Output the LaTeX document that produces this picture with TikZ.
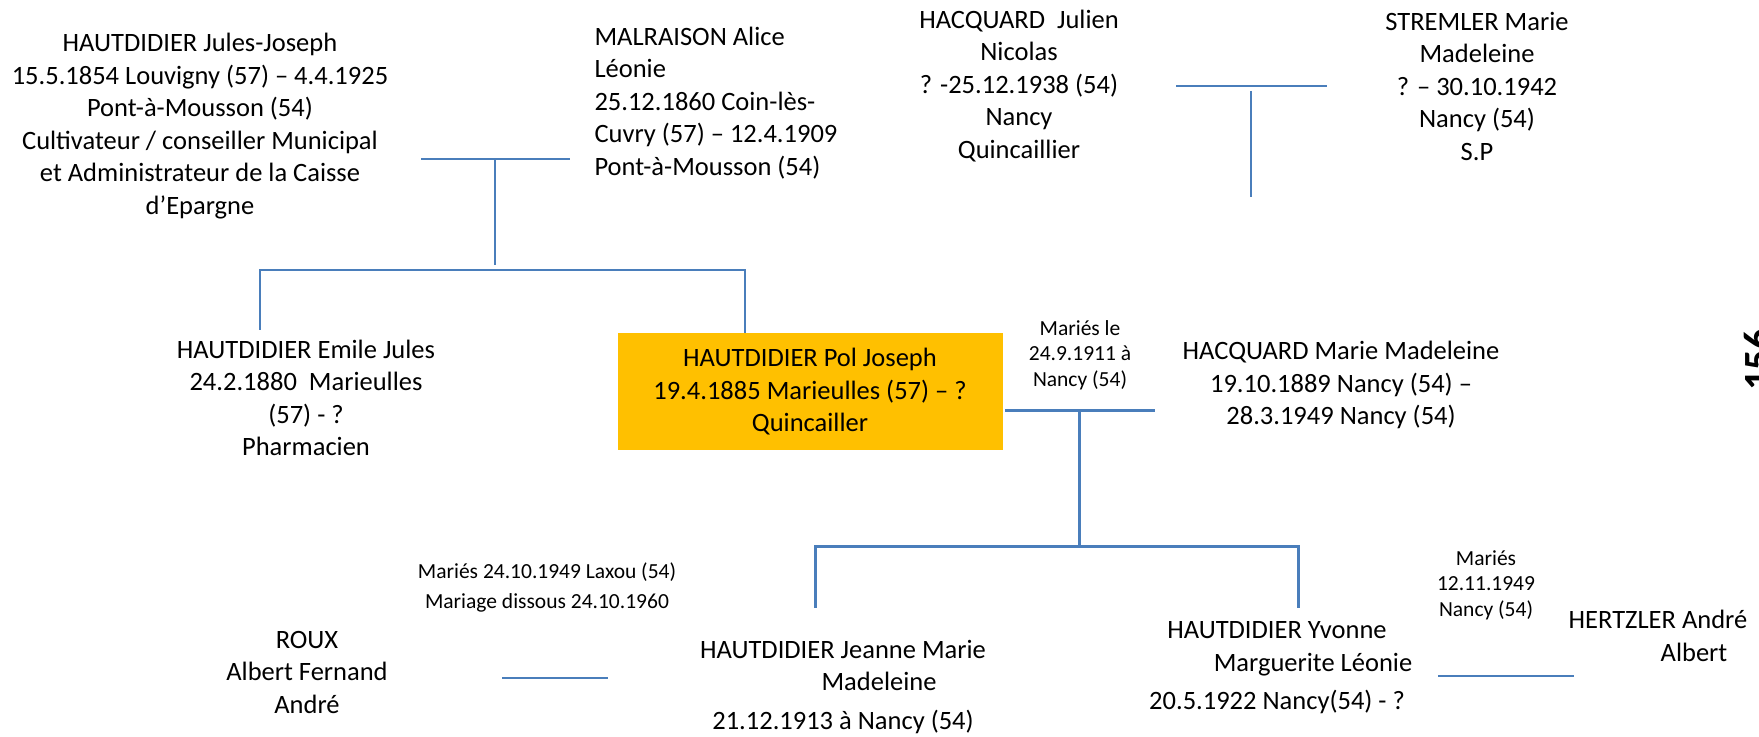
\documentclass[tikz,border=0pt]{standalone}
\usepackage{fontspec}
\setmainfont{Carlito}
\definecolor{linkblue}{HTML}{4A7EBB}
\definecolor{boxorange}{HTML}{FFC000}
\tikzset{
  person/.style={align=center, inner sep=0pt, font=\fontsize{10.6}{13}\selectfont},
  note/.style={align=center, inner sep=0pt, font=\fontsize{8.6}{10.2}\selectfont},
  link/.style={draw=linkblue, line width=0.7pt},
  thicklink/.style={draw=linkblue, line width=1.2pt}
}
\begin{document}
\begin{tikzpicture}[x=0.4pt, y=-0.4pt]
  \useasboundingbox (0,0) rectangle (1759,737);
  % paternal grandparents
  \node[person] (jules) at (200,126) {HAUTDIDIER Jules-Joseph\\15.5.1854 Louvigny (57) – 4.4.1925\\Pont-à-Mousson (54)\\Cultivateur / conseiller Municipal\\et Administrateur de la Caisse\\d’Epargne};
  \node[person, align=left, anchor=west] (malraison) at (594,103) {MALRAISON Alice\\Léonie\\25.12.1860 Coin-lès-\\Cuvry (57) – 12.4.1909\\Pont-à-Mousson (54)};
  \coordinate (jm-l) at (421,159);
  \coordinate (jm-r) at (570,159);
  \coordinate (jm-m) at (495,159);
  \coordinate (jm-d) at (495,265);
  \draw[link] (jm-l) -- (jm-r);
  \draw[link] (jm-m) -- (jm-d);
  % maternal grandparents
  \node[person] (julien) at (1019,86) {HACQUARD\ \ Julien\\Nicolas\\? -25.12.1938 (54)\\Nancy\\Quincaillier};
  \node[person] (stremler) at (1477,86) {STREMLER Marie\\Madeleine\\? – 30.10.1942\\Nancy (54)\\S.P};
  \coordinate (hs-l) at (1176,86);
  \coordinate (hs-r) at (1327,86);
  \coordinate (hs-t) at (1251,91);
  \coordinate (hs-d) at (1251,197);
  \draw[link] (hs-l) -- (hs-r);
  \draw[link] (hs-t) -- (hs-d);
  % children of Jules-Joseph
  \node[person] (emile) at (306,398) {HAUTDIDIER Emile Jules\\24.2.1880\ \ Marieulles\\(57) - ?\\Pharmacien};
  \node[person, fill=boxorange, minimum width=154pt, minimum height=46.8pt] (pol) at (810,392) {HAUTDIDIER Pol Joseph\\19.4.1885 Marieulles (57) – ?\\Quincailler};
  \coordinate (sib-l) at (260,270);
  \coordinate (sib-r) at (745,270);
  \coordinate (emile-up) at (260,330);
  \draw[link] (emile-up) -- (sib-l) -- (sib-r) -- (sib-r |- pol.north);
  % marriage Pol / Marie Madeleine
  \node[note] (wed1911) at (1080,355) {Mariés le\\24.9.1911 à\\Nancy (54)};
  \node[person] (marie) at (1341,385) {HACQUARD Marie Madeleine\\19.10.1889 Nancy (54) –\\28.3.1949 Nancy (54)};
  \coordinate (wed-l) at (1005,411);
  \coordinate (wed-r) at (1155,411);
  \coordinate (wed-m) at (1079,411);
  \coordinate (kids-m) at (1079,547);
  \coordinate (kids-l) at (815,547);
  \coordinate (kids-r) at (1298,547);
  \coordinate (jeanne-up) at (815,608);
  \coordinate (yvonne-up) at (1298,608);
  \draw[thicklink] (wed-l) -- (wed-r);
  \draw[thicklink] (wed-m) -- (kids-m);
  \draw[thicklink] (jeanne-up) -- (kids-l) -- (kids-r) -- (yvonne-up);
  % grandchildren and spouses
  \node[note, font=\fontsize{8.6}{12}\selectfont] (wed1949a) at (547,587) {Mariés 24.10.1949 Laxou (54)\\Mariage dissous 24.10.1960};
  \node[person] (roux) at (307,672) {ROUX\\Albert Fernand\\André};
  \node[person] (jeanne) at (843,687) {HAUTDIDIER Jeanne Marie\\\hspace*{28.8pt}Madeleine\\[2.4pt]21.12.1913 à Nancy (54)};
  \coordinate (rj-l) at (502,678);
  \coordinate (rj-r) at (608,678);
  \draw[link] (rj-l) -- (rj-r);
  \node[note] (wed1949b) at (1486,585) {Mariés\\12.11.1949\\Nancy (54)};
  \node[person] (yvonne) at (1277,668) {HAUTDIDIER Yvonne\\\hspace*{28.8pt}Marguerite Léonie\\[2.4pt]20.5.1922 Nancy(54) - ?};
  \node[person] (hertzler) at (1658,636) {HERTZLER André\\\hspace*{28.8pt}Albert};
  \coordinate (yh-l) at (1438,676);
  \coordinate (yh-r) at (1574,676);
  \draw[link] (yh-l) -- (yh-r);
  % page number
  \node[rotate=90, anchor=north, inner sep=0pt, font=\fontsize{16}{19}\selectfont\bfseries] (page) at (1744,360) {156};
\end{tikzpicture}
\end{document}
